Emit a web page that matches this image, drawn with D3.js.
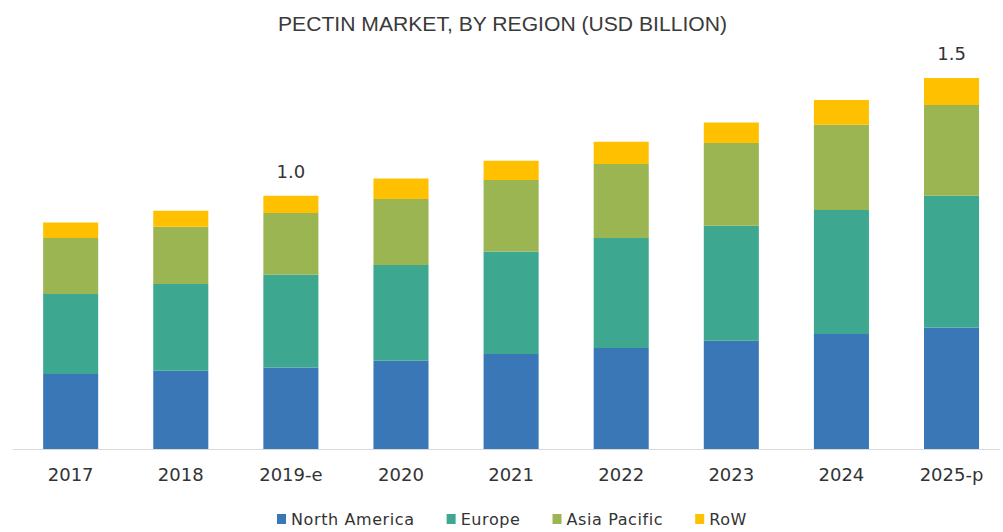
<!DOCTYPE html>
<html>
<head>
<meta charset="utf-8">
<script src="https://cdn.jsdelivr.net/npm/d3@7"></script>
<style>
  html, body { margin: 0; padding: 0; background: #ffffff; }
  svg { display: block; }
</style>
</head>
<body>
<script>
// Pectin market by region, USD billion
const years = ["2017", "2018", "2019-e", "2020", "2021", "2022", "2023", "2024", "2025-p"];
const regions = ["North America", "Europe", "Asia Pacific", "RoW"];
const northAmerica = [0.300, 0.313, 0.326, 0.353, 0.380, 0.404, 0.433, 0.460, 0.486];
const europe       = [0.320, 0.347, 0.371, 0.383, 0.410, 0.440, 0.460, 0.496, 0.527];
const asiaPacific  = [0.224, 0.229, 0.247, 0.264, 0.286, 0.296, 0.331, 0.341, 0.363];
const restOfWorld  = [0.062, 0.064, 0.069, 0.082, 0.077, 0.089, 0.082, 0.099, 0.108];
const labeledYears = ["2019-e", "2025-p"];
const colors = ["#3A77B6", "#3DA88F", "#9BB552", "#FFC000"];

const W = 1003, H = 532;
const svg = d3.select("body").append("svg").attr("width", W).attr("height", H);

const rows = years.map((yr, i) => ({
  year: yr,
  "North America": northAmerica[i],
  "Europe": europe[i],
  "Asia Pacific": asiaPacific[i],
  "RoW": restOfWorld[i]
}));
const series = d3.stack().keys(regions)(rows);

const x = d3.scaleBand().domain(years).range([13, 1000])
  .paddingInner(0.5).paddingOuter(0.232).align(0.59);
const y = d3.scaleLinear().domain([0, 1.6]).range([449, 49]);
const color = d3.scaleOrdinal().domain(regions).range(colors);

// title
svg.append("text")
  .attr("x", 502.5).attr("y", 31)
  .attr("text-anchor", "middle")
  .attr("font-family", "'Liberation Sans Narrow', 'Liberation Sans', Arial, sans-serif")
  .attr("font-size", 21)
  .attr("fill", "#3a3a3a")
  .attr("textLength", 449)
  .attr("lengthAdjust", "spacingAndGlyphs")
  .text("PECTIN MARKET, BY REGION (USD BILLION)");

// stacked bars
svg.append("g").selectAll("g").data(series).join("g")
  .attr("fill", d => color(d.key))
  .selectAll("rect").data(d => d).join("rect")
  .attr("x", d => x(d.data.year))
  .attr("width", x.bandwidth())
  .attr("y", d => y(d[1]))
  .attr("height", d => y(d[0]) - y(d[1]));

// category axis
const xAxis = svg.append("g").attr("transform", `translate(0,${y(0)})`)
  .call(d3.axisBottom(x).tickSize(0).tickPadding(19));
xAxis.select(".domain").remove();
xAxis.selectAll("text")
  .attr("font-family", "'DejaVu Sans', sans-serif")
  .attr("font-size", 18)
  .attr("fill", "#333333");
svg.append("line")
  .attr("x1", x.range()[0]).attr("x2", x.range()[1])
  .attr("y1", y(0) + 0.5).attr("y2", y(0) + 0.5)
  .attr("stroke", "#d9d9d9").attr("stroke-width", 1);

// total labels
svg.append("g").selectAll("text")
  .data(rows.filter(r => labeledYears.includes(r.year)))
  .join("text")
  .attr("x", d => x(d.year) + x.bandwidth() / 2)
  .attr("y", d => y(d3.sum(regions, k => d[k])) - 18)
  .attr("text-anchor", "middle")
  .attr("font-family", "'DejaVu Sans', sans-serif")
  .attr("font-size", 18)
  .attr("fill", "#333333")
  .text(d => d3.sum(regions, k => d[k]).toFixed(1));

// legend
const legend = svg.append("g").attr("transform", "translate(277,0)");
let lx = 0;
regions.forEach(r => {
  const item = legend.append("g").attr("transform", `translate(${lx},0)`);
  item.append("rect")
    .attr("x", 0).attr("y", 514).attr("width", 9).attr("height", 10)
    .attr("fill", color(r));
  const t = item.append("text")
    .attr("x", 14).attr("y", 525)
    .attr("font-family", "'DejaVu Sans', sans-serif")
    .attr("font-size", 16)
    .attr("letter-spacing", 0.6)
    .attr("fill", "#333333")
    .text(r);
  lx += 14 + t.node().getComputedTextLength() + 32;
});
</script>
</body>
</html>
